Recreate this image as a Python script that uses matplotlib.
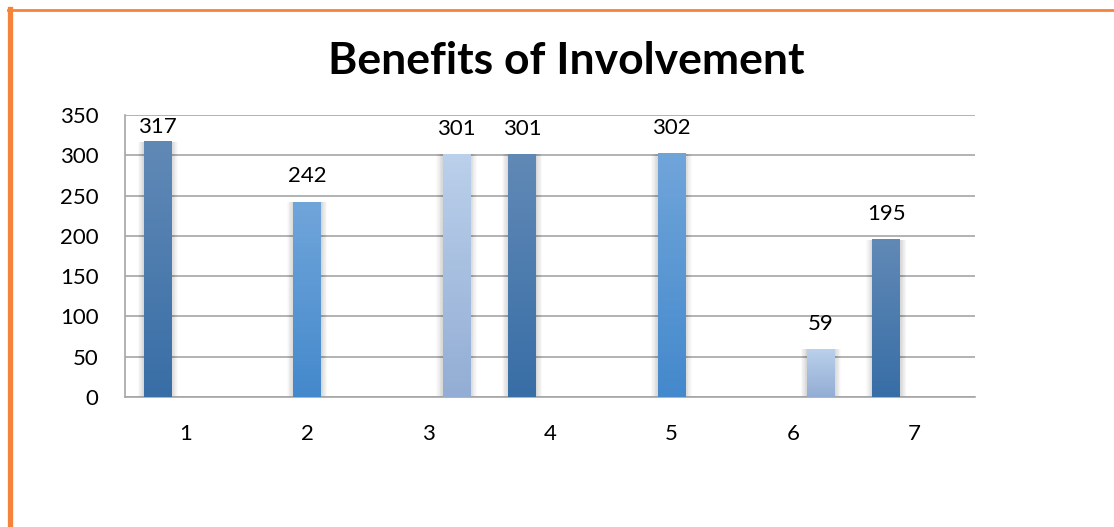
import matplotlib
matplotlib.use("Agg")
import matplotlib.pyplot as plt
import matplotlib.colors as mcolors
from matplotlib.lines import Line2D
import numpy as np

TITLE = "Benefits of Involvement"
CATEGORIES = [1, 2, 3, 4, 5, 6, 7]
# three series, each filled only in some categories (Excel clustered layout)
SERIES_A = [317, None, None, 301, None, None, 195]
SERIES_B = [None, 242, None, None, 302, None, None]
SERIES_C = [None, None, 301, None, None, 59, None]
Y_TICKS = [0, 50, 100, 150, 200, 250, 300, 350]

# (top colour, bottom colour) per series
GRADIENTS = [("#6189b6", "#386ea6"), ("#70a5da", "#4489cc"), ("#bad0eb", "#93add4")]
OFFSETS = [-0.23, 0.0, 0.23]
BAR_W = 0.23

plt.rcParams["font.family"] = ["Lato", "DejaVu Sans"]

fig = plt.figure(figsize=(11.14, 5.27), dpi=100)
ax = fig.add_axes([0.1122, 0.2467, 0.7631, 0.5351])

x = np.arange(1, len(CATEGORIES) + 1)
for series, off, (top, bot) in zip([SERIES_A, SERIES_B, SERIES_C], OFFSETS, GRADIENTS):
    xs = [xi + off for xi, v in zip(x, series) if v is not None]
    vs = [v for v in series if v is not None]
    bars = ax.bar(xs, vs, width=BAR_W, color=bot, zorder=3, linewidth=0)
    cmap = mcolors.LinearSegmentedColormap.from_list("g", [bot, top])
    for b, v in zip(bars, vs):
        x0, w, h = b.get_x(), b.get_width(), b.get_height()
        # soft shadow
        for k in np.linspace(0.005, 0.05, 8):
            ax.bar(x0 + w / 2, h, width=w + 2 * k, color="#000000", alpha=0.018,
                   zorder=2, linewidth=0)
        grad = np.linspace(0, 1, 100).reshape(-1, 1)
        ax.imshow(grad, extent=(x0, x0 + w, 0, h), origin="lower", cmap=cmap,
                  aspect="auto", zorder=3.5, interpolation="bicubic")
        ax.text(x0 + w / 2, min(v + 32, 335), f"{v}", ha="center", va="center",
                fontsize=16, color="#000000", zorder=5)

ax.set_xlim(0.5, len(CATEGORIES) + 0.5)
ax.set_ylim(0, 350)
ax.set_yticks(Y_TICKS)
ax.set_xticks(x)
ax.set_xticklabels([str(c) for c in CATEGORIES])
ax.tick_params(axis="both", length=0, labelsize=16)
ax.tick_params(axis="x", pad=19.5)
ax.tick_params(axis="y", pad=19)
for lbl in ax.get_yticklabels():
    lbl.set_horizontalalignment("right")

ax.yaxis.grid(True, color="#a6a6a6", linewidth=1.2, zorder=0)
ax.set_axisbelow(True)
for s in ["top", "right"]:
    ax.spines[s].set_visible(False)
ax.spines["left"].set_color("#a6a6a6")
ax.spines["bottom"].set_color("#a6a6a6")
ax.spines["left"].set_linewidth(1.2)
ax.spines["bottom"].set_linewidth(1.2)

fig.text(0.508, 0.884, TITLE, ha="center", va="center", fontsize=32,
         fontweight="bold")

# orange frame on top and left
W, H = 1114, 527
fig.add_artist(Line2D([8 / W, 1.0], [1 - 10.3 / H, 1 - 10.3 / H],
                      transform=fig.transFigure, color="#f5843a", linewidth=2.0))
fig.add_artist(Line2D([10 / W, 10 / W], [0, 1 - 9 / H],
                      transform=fig.transFigure, color="#f5843a", linewidth=3.8))

fig.savefig("out.png", dpi=100)
